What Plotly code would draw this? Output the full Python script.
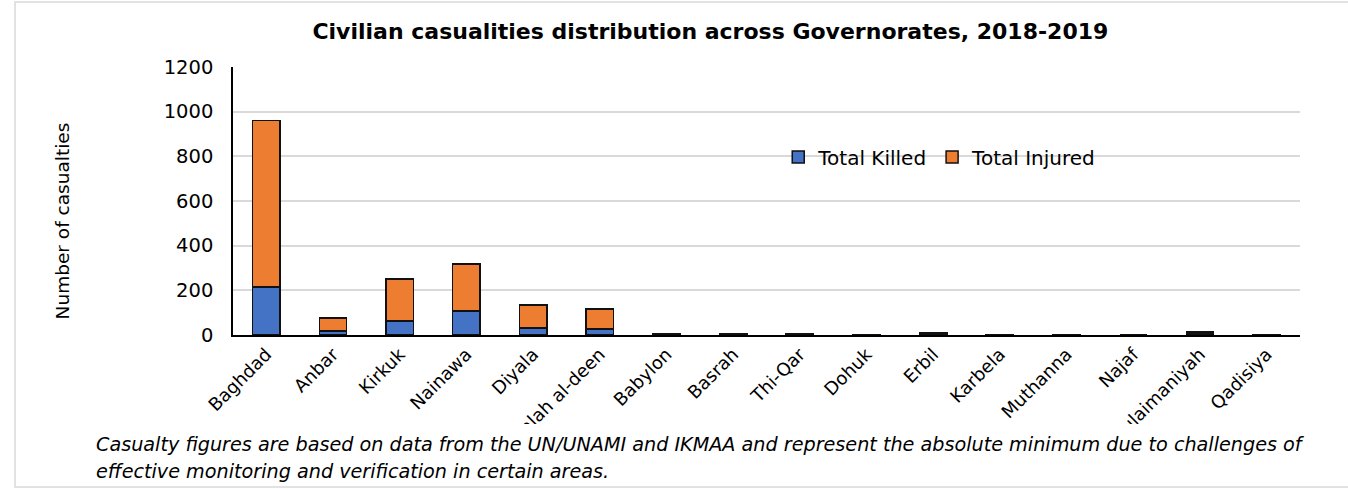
import plotly.graph_objects as go

governorates = ["Baghdad", "Anbar", "Kirkuk", "Nainawa", "Diyala", "Salah al-deen",
                "Babylon", "Basrah", "Thi-Qar", "Dohuk", "Erbil", "Karbela",
                "Muthanna", "Najaf", "Sulaimaniyah", "Qadisiya"]
total_killed = [215, 18, 63, 108, 31, 27, 3, 4, 3, 2, 5, 2, 2, 0, 10, 2]
total_injured = [745, 58, 188, 210, 103, 89, 2, 3, 3, 1, 5, 1, 1, 0, 5, 1]

font_family = "DejaVu Sans, Noto Sans, sans-serif"

fig = go.Figure()
fig.add_trace(go.Bar(
    x=governorates, y=total_killed, name="Total Killed",
    marker=dict(color="#4472C4", line=dict(color="#111111", width=1.5)),
))
fig.add_trace(go.Bar(
    x=governorates, y=total_injured, name="Total Injured",
    marker=dict(color="#ED7D31", line=dict(color="#111111", width=1.5)),
))

fig.update_layout(
    barmode="stack",
    bargap=0.59,
    width=1348, height=489,
    margin=dict(l=233, r=48, t=67, b=154),
    paper_bgcolor="white", plot_bgcolor="white",
    font=dict(family=font_family, color="#000000"),
    title=dict(
        text="<b>Civilian casualities distribution across Governorates, 2018-2019</b>",
        x=0.527, xanchor="center", y=0.935, yanchor="middle",
        font=dict(size=22, family=font_family, color="#000000"),
    ),
    legend=dict(
        orientation="h", x=0.511, y=0.664, xanchor="left", yanchor="middle",
        bgcolor="rgba(0,0,0,0)", font=dict(size=20, family=font_family),
        traceorder="normal",
    ),
    showlegend=True,
)
fig.update_yaxes(
    range=[0, 1200], dtick=200, showgrid=True, gridcolor="#D9D9D9", gridwidth=1.5,
    showline=True, linecolor="#000000", linewidth=1.5,
    ticks="outside", tickcolor="rgba(0,0,0,0)", ticklen=14,
    tickfont=dict(size=19.5, family=font_family), zeroline=False,
)
fig.update_xaxes(
    showline=True, linecolor="#000000", linewidth=1.5,
    tickangle=-45, tickfont=dict(size=18, family=font_family),
    ticks="", showgrid=False,
)

fig.add_annotation(
    text="Number of casualties", xref="paper", yref="paper",
    x=-0.160, y=0.425, textangle=-90, showarrow=False,
    xanchor="center", yanchor="middle",
    font=dict(size=18.5, family=font_family),
)
fig.add_annotation(
    text="<i>Casualty figures are based on data from the UN/UNAMI and IKMAA and represent the absolute minimum due to challenges of</i>",
    xref="paper", yref="paper", x=-0.130, y=-0.41, xanchor="left", yanchor="middle",
    showarrow=False, font=dict(size=19.2, family=font_family),
)
fig.add_annotation(
    text="<i>effective monitoring and verification in certain areas.</i>",
    xref="paper", yref="paper", x=-0.130, y=-0.51, xanchor="left", yanchor="middle",
    showarrow=False, font=dict(size=19.2, family=font_family),
)
# white band that clips long tick labels like the reference
fig.add_shape(
    type="rect", xref="paper", yref="paper",
    x0=-0.2, x1=1.04,
    y0=(335 - 486) / 268, y1=(335 - 424) / 268,
    line=dict(width=0), fillcolor="white", layer="above",
)
fig.add_shape(
    type="rect", xref="paper", yref="paper",
    x0=(15 - 233) / 1067, x1=(1360 - 233) / 1067,
    y0=(335 - 487) / 268, y1=(335 - 2) / 268,
    line=dict(color="#D9D9D9", width=1.5), fillcolor="rgba(0,0,0,0)", layer="above",
)

fig.write_html("out.html")
